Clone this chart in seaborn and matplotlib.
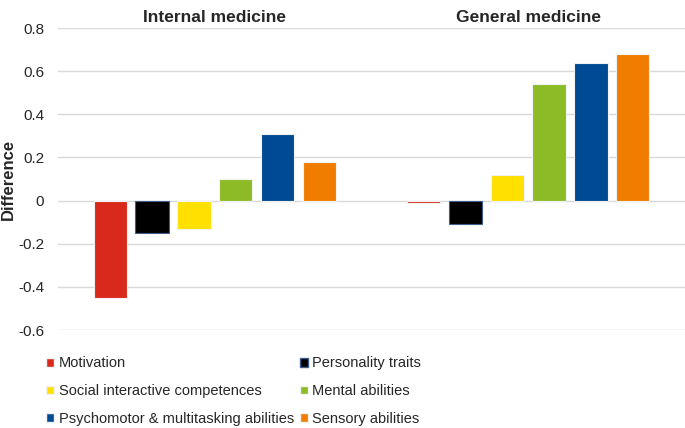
import matplotlib
matplotlib.use("Agg")
import matplotlib.pyplot as plt
import seaborn as sns
import pandas as pd
from matplotlib.patches import Patch

groups = ["Internal medicine", "General medicine"]
categories = ["Motivation", "Personality traits", "Social interactive competences",
              "Mental abilities", "Psychomotor & multitasking abilities", "Sensory abilities"]
internal_values = [-0.45, -0.15, -0.13, 0.10, 0.31, 0.18]
general_values = [-0.01, -0.11, 0.12, 0.54, 0.64, 0.68]
colors = ["#D9291C", "#000000", "#FFE000", "#8DBB25", "#004A93", "#F07D00"]
yticks = [-0.6, -0.4, -0.2, 0, 0.2, 0.4, 0.6, 0.8]
ytick_labels = ["-0.6", "-0.4", "-0.2", "0", "0.2", "0.4", "0.6", "0.8"]

rows = []
for g, vals in zip(groups, [internal_values, general_values]):
    for c, v in zip(categories, vals):
        rows.append({"group": g, "category": c, "value": v})
df = pd.DataFrame(rows)

sns.set_theme(style="white")
plt.rcParams['font.family'] = ['Liberation Sans', 'DejaVu Sans']

fig = plt.figure(figsize=(6.85, 4.28), dpi=100)
ax = fig.add_axes([58/685, 1-330/428, 1-58/685, 302/428])

palette = dict(zip(categories, colors))
sns.barplot(data=df, x="group", y="value", hue="category", order=groups,
            hue_order=categories, palette=palette, width=0.8, gap=0.2,
            saturation=1, ax=ax, legend=False, edgecolor="#F2F2F2", linewidth=0.8,
            zorder=3)

for p in ax.patches:
    fc = p.get_facecolor()
    if fc[0] < 0.05 and fc[1] < 0.05 and fc[2] < 0.05:
        p.set_edgecolor("#3F5F8F")

ax.set_xlim(-0.5, 1.5)
ax.set_ylim(-0.6, 0.8)
ax.set_yticks(yticks)
ax.set_yticklabels(ytick_labels)
ax.grid(axis="y", color="#D9D9D9", linewidth=1.0, zorder=0)
ax.grid(axis="x", visible=False)
for s in ax.spines.values():
    s.set_visible(False)
ax.xaxis.tick_top()
ax.tick_params(axis="x", length=0, pad=2, labelsize=12.5)
for lbl in ax.get_xticklabels():
    lbl.set_fontweight("bold")
ax.tick_params(axis="y", length=0, pad=10, labelsize=11)
ax.set_xlabel("")
ax.set_ylabel("Difference", fontsize=12, fontweight="bold")
ax.yaxis.set_label_coords(-0.067, 0.5)

handles = [Patch(facecolor=c, edgecolor=("#3F5F8F" if c == "#000000" else "#F2F2F2"))
           for c in colors]
order = [0, 2, 4, 1, 3, 5]
fig.legend([handles[i] for i in order], [categories[i] for i in order],
           loc="upper left", bbox_to_anchor=(39/685, 1-349/428), ncol=2,
           frameon=False, fontsize=10.5,
           handlelength=0.55, handleheight=0.55,
           handletextpad=0.3, labelspacing=0.95, columnspacing=0.4, borderpad=0)

fig.savefig("out.png", dpi=100)
